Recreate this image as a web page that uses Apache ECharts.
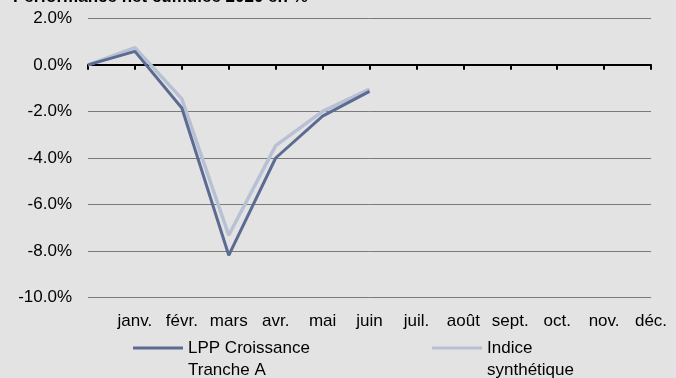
<!DOCTYPE html>
<html>
<head>
<meta charset="utf-8">
<script src="https://cdn.jsdelivr.net/npm/echarts@6/dist/echarts.min.js"></script>
<style>
  html, body { margin: 0; padding: 0; background: #e3e3e3; }
  #chart { width: 676px; height: 378px; }
</style>
</head>
<body>
<div id="chart"></div>
<script>
// Monthly cumulative net performance, 2020 (in %)
const months = ['', 'janv.', 'févr.', 'mars', 'avr.', 'mai', 'juin', 'juil.', 'août', 'sept.', 'oct.', 'nov.', 'déc.'];
const lppCroissance = [0, 0.58, -1.85, -8.18, -4.0, -2.2, -1.14];
const indiceSynthetique = [0, 0.74, -1.46, -7.32, -3.47, -2.0, -1.04];
const seriesNames = ['LPP Croissance\nTranche A', 'Indice\nsynthétique'];
const yMin = -10, yMax = 2, yStep = 2;

const font = '"Liberation Sans", Arial, sans-serif';
const darkBlue = '#5b6b92';
const lightBlue = '#b8c1d4';

const chart = echarts.init(document.getElementById('chart'));

// Legend labels hang below their swatch: a blank first line puts the
// swatch level with the first line of text.
const legendBase = {
  top: 315,
  padding: 0,
  itemWidth: 50,
  itemHeight: 3,
  icon: 'rect',
  formatter: name => '\n' + name,
  textStyle: { fontFamily: font, fontSize: 17, color: '#000', lineHeight: 22 }
};

chart.setOption({
  backgroundColor: '#e3e3e3',
  animation: false,
  title: {
    text: 'Performance net cumulée 2020 en %',
    left: 13,
    top: -11,
    padding: 0,
    textStyle: { fontFamily: font, fontSize: 17, fontWeight: 'bold', color: '#000' }
  },
  legend: [
    Object.assign({}, legendBase, { data: [seriesNames[0]], left: 133 }),
    Object.assign({}, legendBase, { data: [seriesNames[1]], left: 432 })
  ],
  grid: { left: 88, right: 25, top: 18.3, bottom: 80.3 },
  xAxis: [
    {
      type: 'category',
      data: months,
      boundaryGap: false,
      position: 'bottom',
      axisLine: { show: false, onZero: false },
      axisTick: { show: false },
      axisLabel: { interval: 0, margin: 15, fontFamily: font, fontSize: 17, color: '#000' },
      splitLine: { show: false }
    },
    {
      type: 'category',
      data: months,
      boundaryGap: false,
      position: 'bottom',
      axisLine: { show: true, onZero: true, lineStyle: { color: '#000', width: 2 } },
      axisTick: { show: true, interval: 0, length: 5, lineStyle: { color: '#000', width: 2 } },
      axisLabel: { show: false },
      splitLine: { show: false }
    }
  ],
  yAxis: {
    type: 'value',
    min: yMin,
    max: yMax,
    interval: yStep,
    axisLine: { show: false },
    axisTick: { show: false },
    axisLabel: {
      margin: 16,
      fontFamily: font,
      fontSize: 17,
      color: '#000',
      formatter: v => v.toFixed(1) + '%'
    },
    splitLine: { lineStyle: { color: '#7a7a7a', width: 1 } }
  },
  series: [
    {
      name: seriesNames[0],
      type: 'line',
      xAxisIndex: 0,
      data: lppCroissance,
      symbol: 'none',
      z: 3,
      itemStyle: { color: darkBlue },
      lineStyle: { color: darkBlue, width: 3 }
    },
    {
      name: seriesNames[1],
      type: 'line',
      xAxisIndex: 0,
      data: indiceSynthetique,
      symbol: 'none',
      z: 2,
      itemStyle: { color: lightBlue },
      lineStyle: { color: lightBlue, width: 3.5 }
    }
  ]
});
</script>
</body>
</html>
